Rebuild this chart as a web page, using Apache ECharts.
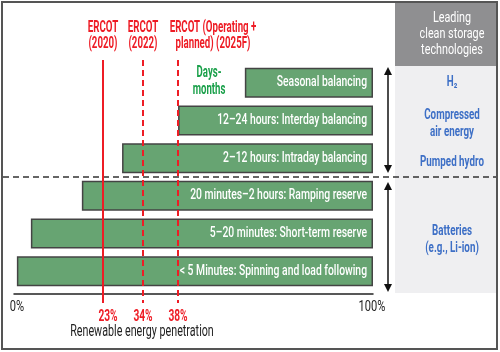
<!DOCTYPE html>
<html>
<head>
<meta charset="utf-8">
<script src="https://cdn.jsdelivr.net/npm/echarts@6/dist/echarts.min.js"></script>
<style>
  html, body { margin: 0; padding: 0; background: #fff; }
  #chart { width: 500px; height: 352px; }
</style>
</head>
<body>
<div id="chart"></div>
<script>
// storage duration bands, top to bottom
var categories = [
  'Seasonal balancing',
  '12\u201324 hours: Interday balancing',
  '2\u201312 hours: Intraday balancing',
  '20 minutes\u20132 hours: Ramping reserve',
  '5\u201320 minutes: Short-term reserve',
  '< 5 Minutes: Spinning and load following'
];
// where each bar starts / ends on the penetration axis (%)
var barStart = [64.3, 45.7, 30.1, 18.9, 4.7, 0.8];
var barEnd = [100, 100, 100, 100, 100, 100];
// ERCOT markers: drawn position on the axis and printed label
var ercotPos = [24.8, 35.9, 45.7];
var ercotLabels = ['23%', '34%', '38%'];
var ercotTitles = ['ERCOT\n(2020)', 'ERCOT\n(2022)', 'ERCOT (Operating +\nplanned) (2025F)'];
var axisTicks = [0, 100];

var FONT = 'Roboto, "DejaVu Sans", sans-serif';
var SX = 0.74; // squeeze text to look like the condensed face
var RED = '#ee1c25';
var BLUE = '#3d6fc6';

var chart = echarts.init(document.getElementById('chart'));

var option = {
  animation: false,
  grid: { left: 14, right: 127, top: 64, height: 226 },
  xAxis: {
    type: 'value',
    min: axisTicks[0],
    max: axisTicks[1],
    interval: 100,
    offset: 4,
    splitLine: { show: false },
    axisTick: { show: false },
    axisLine: { show: true, lineStyle: { color: '#222', width: 1.5 } },
    axisLabel: { show: false }
  },
  yAxis: {
    type: 'category',
    data: categories,
    inverse: true,
    show: false
  },
  series: [
    {
      type: 'bar',
      stack: 'b',
      barWidth: 30,
      silent: true,
      itemStyle: { color: 'transparent' },
      data: barStart
    },
    {
      type: 'bar',
      stack: 'b',
      barWidth: 30,
      itemStyle: { color: '#67a472', borderColor: '#444', borderWidth: 1.5 },
      data: barEnd.map(function (v, i) { return +(v - barStart[i]).toFixed(1); })
    }
  ]
};
chart.setOption(option);

var g = [];
function txt(x, y, s, size, color, weight, align, lh, sx) {
  g.push({ type: 'text', x: x, y: y, scaleX: sx || SX, z: 20, style: {
    text: s, fill: color, font: (weight || 'normal') + ' ' + size + 'px ' + FONT,
    align: align || 'center', verticalAlign: 'middle', lineHeight: lh || size + 2 } });
}
var xOf = function (v) { return Math.round(chart.convertToPixel({ xAxisIndex: 0 }, v)); };
var yOf = function (i) { return chart.convertToPixel({ yAxisIndex: 0 }, categories[i]); };
var sepY = Math.round((yOf(2) + yOf(3)) / 2);

// bar labels
categories.forEach(function (c, i) {
  txt(xOf(barEnd[i]) - 6, yOf(i), c, 14, '#fff', '500', 'right');
});

// axis tick labels and name
axisTicks.forEach(function (v) {
  txt(xOf(v) + (v === 0 ? 3 : -1), 307, v + '%', 15, '#222', 'normal');
});
txt(142, 332, 'Renewable energy penetration', 16, '#222', 'normal', 'center', 18, 0.67);

// outer frame
g.push({ type: 'rect', shape: { x: 2, y: 2, width: 495, height: 347 },
  style: { fill: 'none', stroke: '#555', lineWidth: 2 }, z: 10 });
// right panel
g.push({ type: 'rect', shape: { x: 395, y: 66, width: 101, height: 227 },
  style: { fill: '#efeff1' }, z: 0 });
g.push({ type: 'rect', shape: { x: 395, y: 3, width: 102, height: 63 },
  style: { fill: '#8f8f91' }, z: 0 });
txt(452, 34, 'Leading\nclean storage\ntechnologies', 15, '#fff', 'normal', 'center', 16, 0.72);

var techs = [['H\u2082', 82], ['Compressed\nair energy', 124], ['Pumped hydro', 162], ['Batteries\n(e.g., Li-ion)', 240]];
techs.forEach(function (t) {
  txt(452, t[1], t[0], 14, BLUE, 'bold', 'center', 17, 0.7);
});

// separator
g.push({ type: 'line', shape: { x1: 3, y1: sepY, x2: 496, y2: sepY },
  style: { stroke: '#333', lineWidth: 1.5, lineDash: [6, 4] }, z: 5 });

// double arrows
function arrow(x, y1, y2) {
  g.push({ type: 'line', shape: { x1: x, y1: y1 + 6, x2: x, y2: y2 - 6 },
    style: { stroke: '#111', lineWidth: 1.5 } });
  g.push({ type: 'polygon', shape: { points: [[x, y1], [x - 4, y1 + 8], [x + 4, y1 + 8]] },
    style: { fill: '#111' } });
  g.push({ type: 'polygon', shape: { points: [[x, y2], [x - 4, y2 - 8], [x + 4, y2 - 8]] },
    style: { fill: '#111' } });
}
arrow(388, 67, sepY - 4);
arrow(388, sepY + 5, 292);

// ERCOT lines and labels
ercotPos.forEach(function (v, i) {
  var x = xOf(v);
  g.push({ type: 'line', shape: { x1: x, y1: 60, x2: x, y2: 303 },
    style: { stroke: RED, lineWidth: 2, lineDash: i === 0 ? null : [6, 4] }, z: 6 });
  txt(x + (i === 0 ? 5 : 0), 317, ercotLabels[i], 17, RED, 'bold', 'center', 17, 0.6);
  txt(i === 2 ? x + 35 : x, 36, ercotTitles[i], 17, RED, 'bold', 'center', 16, 0.57);
});

// Days-months
txt(209, 81, 'Days-\nmonths', 16, '#1aa04a', 'bold', 'center', 17, 0.6);

chart.setOption({ graphic: g });
</script>
</body>
</html>
